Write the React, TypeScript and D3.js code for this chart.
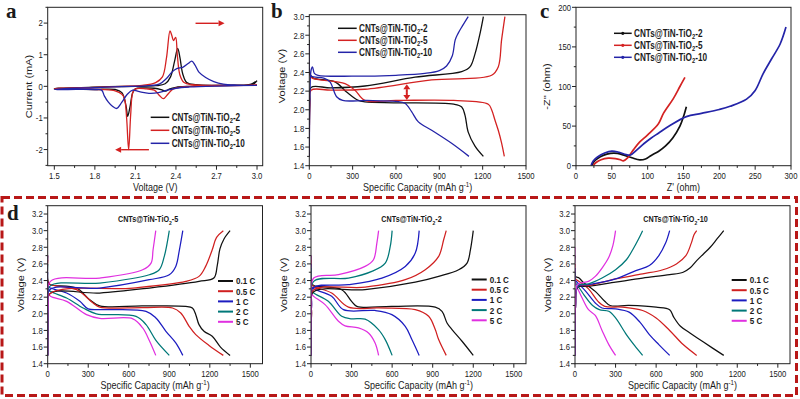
import React from 'react';
import * as d3 from 'd3';

type Pt = [number, number];

// ---------- Panel a : CV curves (Voltage V, Current mA) ----------
const cvTiO2_2: Pt[] = [
  [3.0, 0.18], [2.97, 0.06], [2.9, 0.04], [2.7, 0.02], [2.5, 0.0], [2.4, -0.03], [2.35, -0.09], [2.324, -0.15],
  [2.29, -0.1], [2.24, -0.06], [2.15, -0.05], [2.1, -0.08], [2.08, -0.2], [2.06, -0.65], [2.043, -0.95],
  [2.03, -0.6], [2.0, -0.2], [1.95, -0.1], [1.8, -0.1], [1.6, -0.09], [1.5, -0.08],
  [1.53, -0.06], [1.7, -0.04], [1.9, -0.01], [2.1, 0.0], [2.25, 0.02], [2.32, 0.08], [2.36, 0.3],
  [2.39, 0.8], [2.413, 1.2], [2.43, 0.9], [2.45, 0.4], [2.48, 0.12], [2.55, 0.05], [2.8, 0.04], [2.95, 0.06], [3.0, 0.18],
];
const cvTiO2_5: Pt[] = [
  [3.0, 0.05], [2.9, 0.03], [2.6, 0.01], [2.45, -0.02], [2.38, -0.08], [2.34, -0.25], [2.307, -0.39],
  [2.28, -0.3], [2.24, -0.12], [2.18, -0.08], [2.1, -0.08], [2.08, -0.2], [2.065, -0.9], [2.05, -2.0],
  [2.035, -1.0], [2.02, -0.4], [2.0, -0.25], [1.95, -0.14], [1.85, -0.1], [1.7, -0.09], [1.5, -0.08],
  [1.55, -0.06], [1.8, -0.03], [2.0, 0.0], [2.15, 0.03], [2.25, 0.12], [2.3, 0.3], [2.33, 0.9],
  [2.356, 1.75], [2.37, 1.6], [2.382, 1.45], [2.398, 1.55], [2.41, 1.0], [2.43, 0.35], [2.46, 0.12],
  [2.52, 0.05], [2.8, 0.03], [3.0, 0.04],
];
const cvTiO2_10: Pt[] = [
  [3.0, 0.03], [2.7, 0.01], [2.5, -0.02], [2.4, -0.06], [2.33, -0.13], [2.27, -0.2], [2.2, -0.22],
  [2.13, -0.17], [2.08, -0.12], [2.04, -0.25], [2.0, -0.5], [1.961, -0.7], [1.93, -0.63], [1.9, -0.5],
  [1.87, -0.3], [1.85, -0.12], [1.8, -0.1], [1.6, -0.1], [1.5, -0.1],
  [1.55, -0.08], [1.8, -0.04], [2.0, -0.01], [2.2, 0.02], [2.28, 0.08], [2.33, 0.25], [2.37, 0.45],
  [2.41, 0.57], [2.45, 0.6], [2.49, 0.72], [2.517, 0.8], [2.54, 0.68], [2.57, 0.45], [2.62, 0.28],
  [2.68, 0.15], [2.75, 0.07], [2.85, 0.04], [3.0, 0.03],
];

// ---------- Panel b : charge/discharge (capacity, voltage) ----------
const bDisTiO2_2: Pt[] = [[0, 2.75], [4, 2.38], [28, 2.34], [178, 2.3], [258, 2.19], [339, 2.1], [385, 2.085], [600, 2.075], [1000, 2.06], [1055, 2.03], [1078, 1.94], [1100, 1.76], [1147, 1.61], [1205, 1.5]];
const bChgTiO2_2: Pt[] = [[0, 1.5], [4, 2.1], [12, 2.24], [150, 2.235], [385, 2.255], [732, 2.35], [1055, 2.41], [1112, 2.46], [1147, 2.6], [1182, 2.82], [1205, 3.0]];
const bDisTiO2_5: Pt[] = [[0, 2.7], [4, 2.37], [20, 2.34], [247, 2.28], [316, 2.21], [385, 2.1], [600, 2.1], [1000, 2.1], [1239, 2.06], [1262, 2.0], [1285, 1.89], [1308, 1.78], [1330, 1.65], [1350, 1.5]];
const bChgTiO2_5: Pt[] = [[0, 1.5], [4, 2.05], [12, 2.21], [150, 2.21], [385, 2.22], [847, 2.32], [1262, 2.37], [1308, 2.46], [1331, 2.75], [1354, 3.0]];
const bDisTiO2_10: Pt[] = [[0, 2.7], [4, 2.4], [15, 2.36], [100, 2.34], [143, 2.3], [189, 2.14], [231, 2.1], [400, 2.1], [600, 2.09], [662, 2.07], [708, 1.98], [755, 1.87], [847, 1.78], [985, 1.64], [1105, 1.5]];
const bChgTiO2_10: Pt[] = [[0, 1.5], [5, 2.2], [12, 2.42], [22, 2.46], [35, 2.39], [60, 2.37], [300, 2.36], [600, 2.37], [800, 2.39], [900, 2.42], [950, 2.47], [990, 2.58], [1010, 2.75], [1030, 2.82], [1060, 2.9], [1100, 3.0]];

// ---------- Panel c : Nyquist (Z', -Z'') ----------
const eisTiO2_2: Pt[] = [[22, 0], [25, 5], [30, 9], [38, 13], [48, 15.5], [58, 15.5], [68, 13], [78, 10], [89, 7.3], [97, 8.5], [105, 13], [115, 18], [125, 25], [135, 35], [145, 50], [150, 62], [154, 74.5]];
const eisTiO2_5: Pt[] = [[24, 0], [28, 4], [35, 7.5], [45, 9.5], [55, 9], [62, 7.5], [66, 6], [72, 10], [80, 20], [89, 30], [100, 39], [115, 53], [122, 66], [136, 85], [145, 100], [152, 111.6]];
const eisTiO2_10: Pt[] = [[21, 0], [24, 6], [30, 11], [40, 16], [50, 18.5], [60, 17], [70, 14], [76, 13.5], [85, 20], [95, 28], [105, 35], [115, 41], [130, 50], [154, 62], [175, 66], [200, 71], [215, 75], [238, 84], [250, 95], [261, 116], [273, 135], [285, 154], [293, 175]];

// ---------- Panel d : rate performance ----------
const rates = ['0.1 C', '0.5 C', '1 C', '2 C', '5 C'];

const dDisTiO2_5: Pt[][] = [
  [[0, 2.7], [4, 2.38], [20, 2.35], [213, 2.31], [311, 2.17], [385, 2.095], [700, 2.095], [1022, 2.09], [1071, 2.07], [1096, 1.99], [1120, 1.87], [1157, 1.79], [1218, 1.73], [1279, 1.6], [1350, 1.5]],
  [[0, 2.65], [4, 2.37], [20, 2.35], [213, 2.29], [336, 2.13], [385, 2.08], [700, 2.075], [924, 2.07], [985, 2.01], [1047, 1.85], [1096, 1.75], [1194, 1.62], [1300, 1.5]],
  [[0, 2.5], [4, 2.33], [20, 2.31], [140, 2.25], [238, 2.15], [299, 2.06], [400, 2.05], [728, 2.03], [801, 1.95], [875, 1.79], [948, 1.65], [1000, 1.5]],
  [[0, 2.6], [4, 2.3], [20, 2.27], [140, 2.19], [262, 2.07], [360, 2.0], [654, 1.97], [728, 1.87], [801, 1.68], [900, 1.5]],
  [[0, 2.7], [4, 2.25], [20, 2.21], [140, 2.15], [287, 1.99], [385, 1.945], [630, 1.94], [703, 1.83], [752, 1.68], [800, 1.5]],
];
const dChgTiO2_5: Pt[][] = [
  [[0, 1.5], [4, 2.0], [15, 2.24], [385, 2.25], [752, 2.31], [1120, 2.39], [1230, 2.43], [1255, 2.58], [1275, 2.78], [1305, 2.9], [1350, 3.0]],
  [[0, 1.5], [4, 2.0], [15, 2.24], [630, 2.31], [1022, 2.39], [1120, 2.45], [1169, 2.57], [1218, 2.77], [1250, 2.92], [1300, 3.0]],
  [[0, 1.5], [4, 2.1], [15, 2.29], [385, 2.31], [752, 2.41], [900, 2.47], [948, 2.57], [975, 2.77], [1000, 3.0]],
  [[0, 1.5], [4, 2.1], [15, 2.33], [385, 2.37], [752, 2.47], [826, 2.53], [863, 2.69], [900, 3.0]],
  [[0, 1.5], [4, 2.1], [20, 2.39], [385, 2.43], [703, 2.53], [765, 2.61], [780, 2.77], [800, 3.0]],
];

const dDisTiO2_2: Pt[][] = [
  [[0, 2.7], [4, 2.37], [20, 2.34], [227, 2.29], [300, 2.15], [339, 2.09], [600, 2.09], [919, 2.08], [969, 2.03], [1006, 1.89], [1043, 1.81], [1117, 1.67], [1200, 1.5]],
  [[0, 2.65], [4, 2.36], [20, 2.33], [153, 2.25], [277, 2.08], [500, 2.07], [771, 2.05], [870, 1.97], [919, 1.81], [944, 1.69], [1000, 1.5]],
  [[0, 2.6], [4, 2.33], [20, 2.3], [153, 2.21], [240, 2.05], [474, 2.04], [598, 1.99], [697, 1.85], [746, 1.69], [800, 1.5]],
  [[0, 2.55], [4, 2.28], [20, 2.25], [128, 2.15], [227, 1.97], [301, 1.94], [400, 1.935], [499, 1.81], [549, 1.69], [600, 1.5]],
  [[0, 2.7], [4, 2.24], [20, 2.21], [104, 2.11], [203, 1.91], [252, 1.855], [351, 1.83], [425, 1.77], [474, 1.65], [500, 1.5]],
];
const dChgTiO2_2: Pt[][] = [
  [[0, 1.5], [4, 2.0], [15, 2.26], [400, 2.29], [771, 2.38], [944, 2.45], [1092, 2.53], [1154, 2.61], [1179, 2.77], [1200, 3.0]],
  [[0, 1.5], [4, 2.0], [15, 2.28], [400, 2.32], [697, 2.41], [845, 2.53], [944, 2.69], [981, 2.89], [1000, 3.0]],
  [[0, 1.5], [4, 2.1], [15, 2.31], [277, 2.35], [524, 2.43], [697, 2.57], [771, 2.73], [800, 3.0]],
  [[0, 1.5], [4, 2.1], [20, 2.39], [277, 2.43], [450, 2.51], [549, 2.61], [586, 2.81], [600, 3.0]],
  [[0, 1.5], [4, 2.1], [20, 2.43], [203, 2.47], [400, 2.57], [462, 2.65], [487, 2.85], [500, 3.0]],
];

const dDisTiO2_10: Pt[][] = [
  [[0, 2.7], [4, 2.45], [30, 2.43], [60, 2.38], [150, 2.27], [220, 2.15], [260, 2.1], [400, 2.1], [600, 2.08], [700, 2.05], [730, 1.96], [780, 1.85], [850, 1.77], [950, 1.66], [1100, 1.5]],
  [[0, 2.6], [4, 2.42], [20, 2.4], [100, 2.3], [170, 2.15], [220, 2.09], [350, 2.08], [500, 2.04], [600, 1.95], [700, 1.8], [800, 1.63], [900, 1.5]],
  [[0, 2.55], [4, 2.4], [15, 2.38], [80, 2.27], [150, 2.13], [200, 2.07], [300, 2.06], [400, 2.02], [480, 1.9], [550, 1.75], [620, 1.63], [700, 1.5]],
  [[0, 2.5], [4, 2.37], [15, 2.35], [70, 2.22], [130, 2.1], [180, 2.05], [250, 2.03], [300, 1.95], [380, 1.75], [440, 1.62], [500, 1.5]],
  [[0, 2.8], [4, 2.35], [15, 2.32], [50, 2.2], [100, 2.05], [150, 1.98], [200, 1.8], [250, 1.63], [300, 1.5]],
];
const dChgTiO2_10: Pt[][] = [
  [[0, 1.5], [4, 2.1], [20, 2.32], [100, 2.33], [300, 2.38], [500, 2.43], [700, 2.47], [800, 2.5], [850, 2.55], [900, 2.64], [950, 2.72], [1000, 2.8], [1050, 2.9], [1100, 3.0]],
  [[0, 1.5], [4, 2.1], [20, 2.33], [100, 2.34], [300, 2.42], [500, 2.48], [650, 2.53], [750, 2.6], [820, 2.7], [860, 2.85], [880, 2.95], [900, 3.0]],
  [[0, 1.5], [4, 2.1], [20, 2.33], [100, 2.35], [300, 2.42], [450, 2.52], [550, 2.58], [620, 2.7], [670, 2.85], [700, 3.0]],
  [[0, 1.5], [4, 2.1], [20, 2.34], [100, 2.36], [200, 2.43], [300, 2.53], [380, 2.65], [430, 2.78], [470, 2.9], [500, 3.0]],
  [[0, 1.5], [4, 2.1], [20, 2.35], [100, 2.39], [150, 2.45], [200, 2.55], [250, 2.68], [280, 2.82], [300, 3.0]],
];

// ---------- Tick values ----------
const aXTicks = [1.5, 1.8, 2.1, 2.4, 2.7, 3.0];
const aYTicks = [-2, -1, 0, 1, 2];
const capTicks = [0, 300, 600, 900, 1200, 1500];
const bYTicks = [1.4, 1.6, 1.8, 2.0, 2.2, 2.4, 2.6, 2.8, 3.0];
const cXTicks = [0, 50, 100, 150, 200, 250, 300];
const cYTicks = [0, 50, 100, 150, 200];
const dYTicks = [1.4, 1.6, 1.8, 2.0, 2.2, 2.4, 2.6, 2.8, 3.0, 3.2];

// ---------- styling ----------
const SX = 0.82;
const FONT = "'Liberation Sans', Arial, Helvetica, sans-serif";
const SERIF = "'Liberation Serif', 'Times New Roman', serif";
const sampleColors = ['#111111', '#d42222', '#2424a8'];
const rateColors = ['#111111', '#d02020', '#1c1cc0', '#007878', '#e030e0'];
const RED = '#d42020';

type TxtProps = { x: number; y: number; size: number; anchor?: string; weight?: string; rot?: boolean; fill?: string; family?: string; noSquash?: boolean; children: React.ReactNode };
function Txt({ x, y, size, anchor = 'start', weight = 'normal', rot = false, fill = '#1a1a1a', family = FONT, noSquash = false, children }: TxtProps) {
  const s = noSquash ? 1 : SX;
  const tr = rot ? `translate(${x},${y}) rotate(-90) scale(1,${s})` : `translate(${x},${y}) scale(${s},1)`;
  return (
    <text transform={tr} fontSize={size} textAnchor={anchor as any} fontWeight={weight} fontFamily={family} fill={fill}>
      {children}
    </text>
  );
}

function SampleLabel({ sfx }: { sfx: string }) {
  return (
    <>
      CNTs@TiN-TiO<tspan fontSize="0.7em" dy="2.5">2</tspan>
      <tspan dy="-2.5">-{sfx}</tspan>
    </>
  );
}

function minorsOf(ticks: number[], dom: number[]) {
  const step = ticks[1] - ticks[0];
  const out: number[] = [];
  for (let v = ticks[0] - step / 2; v <= dom[1] + 1e-9; v += step) {
    if (v >= dom[0] - 1e-9) out.push(v);
  }
  return out;
}

type AxesProps = {
  xs: d3.ScaleLinear<number, number>; ys: d3.ScaleLinear<number, number>;
  xTicks: number[]; yTicks: number[]; xFmt: (v: number) => string; yFmt: (v: number) => string;
  xTitle: React.ReactNode; yTitle: React.ReactNode; yTitleX: number; yTitleY?: number;
};
function Axes({ xs, ys, xTicks, yTicks, xFmt, yFmt, xTitle, yTitle, yTitleX, yTitleY }: AxesProps) {
  const [L, R] = xs.range();
  const [B, T] = ys.range();
  const xm = minorsOf(xTicks, xs.domain());
  const ym = minorsOf(yTicks, ys.domain());
  const c = '#222';
  return (
    <g>
      <rect x={L} y={T} width={R - L} height={B - T} fill="none" stroke={c} strokeWidth={1} />
      {xTicks.map((v) => (
        <g key={'xt' + v}>
          <line x1={xs(v)} x2={xs(v)} y1={B} y2={B + 4} stroke={c} strokeWidth={1} />
          <Txt x={xs(v)} y={B + 13.5} size={9.4} anchor="middle">{xFmt(v)}</Txt>
        </g>
      ))}
      {xm.map((v) => (
        <line key={'xm' + v} x1={xs(v)} x2={xs(v)} y1={B} y2={B + 2.2} stroke={c} strokeWidth={1} />
      ))}
      {yTicks.map((v) => (
        <g key={'yt' + v}>
          <line x1={L - 4} x2={L} y1={ys(v)} y2={ys(v)} stroke={c} strokeWidth={1} />
          <Txt x={L - 5} y={ys(v) + 3.3} size={9.4} anchor="end">{yFmt(v)}</Txt>
        </g>
      ))}
      {ym.map((v) => (
        <line key={'ym' + v} x1={L - 2.2} x2={L} y1={ys(v)} y2={ys(v)} stroke={c} strokeWidth={1} />
      ))}
      <Txt x={(L + R) / 2} y={B + 25} size={11} anchor="middle">{xTitle}</Txt>
      <Txt x={yTitleX} y={yTitleY ?? (T + B) / 2} size={11} anchor="middle" rot>{yTitle}</Txt>
    </g>
  );
}

function curve(xs: d3.ScaleLinear<number, number>, ys: d3.ScaleLinear<number, number>) {
  return d3
    .line<Pt>()
    .x((d) => xs(d[0]))
    .y((d) => ys(d[1]))
    .curve(d3.curveCatmullRom.alpha(0.5));
}

const capTitle = (
  <>
    Specific Capacity (mAh g<tspan fontSize="0.68em" dy="-4">-1</tspan>
    <tspan dy="4">)</tspan>
  </>
);

function Arrow({ x1, y1, x2, y2, w = 1.4, head = 6, hw = 3 }: { x1: number; y1: number; x2: number; y2: number; w?: number; head?: number; hw?: number }) {
  const ang = Math.atan2(y2 - y1, x2 - x1);
  const bx = x2 - head * Math.cos(ang);
  const by = y2 - head * Math.sin(ang);
  const px = -Math.sin(ang) * hw;
  const py = Math.cos(ang) * hw;
  return (
    <g>
      <line x1={x1} y1={y1} x2={bx} y2={by} stroke={RED} strokeWidth={w} />
      <polygon points={`${x2},${y2} ${bx + px},${by + py} ${bx - px},${by - py}`} fill={RED} />
    </g>
  );
}

function RatePanel({ L, R, title, dis, chg, legX, legY }: { L: number; R: number; title: string; dis: Pt[][]; chg: Pt[][]; legX: number; legY: number }) {
  const xs = d3.scaleLinear().domain([0, 1590]).range([L, R]);
  const ys = d3.scaleLinear().domain([1.4, 3.3]).range([363.7, 205.7]);
  const ln = curve(xs, ys);
  const id = 'clip' + Math.round(L);
  return (
    <g>
      <clipPath id={id}>
        <rect x={L} y={205.7} width={R - L} height={363.7 - 205.7} />
      </clipPath>
      <g clipPath={`url(#${id})`} fill="none" strokeWidth={1.25}>
        {dis.map((s, i) => <path key={'d' + i} d={ln(s) || ''} stroke={rateColors[i]} />)}
        {chg.map((s, i) => <path key={'c' + i} d={ln(s) || ''} stroke={rateColors[i]} />)}
      </g>
      <Axes xs={xs} ys={ys} xTicks={capTicks} yTicks={dYTicks} xFmt={(v) => String(v)} yFmt={(v) => v.toFixed(1)}
        xTitle={capTitle} yTitle="Voltage (V)" yTitleX={L - 24} />
      <Txt x={(L + R) / 2 - 7} y={222} size={8.8} anchor="middle" weight="bold"><SampleLabel sfx={title} /></Txt>
      {rates.map((r, i) => (
        <g key={r}>
          <line x1={legX} x2={legX + 15} y1={legY + i * 10.2} y2={legY + i * 10.2} stroke={rateColors[i]} strokeWidth={2} />
          <Txt x={legX + 18} y={legY + i * 10.2 + 3.4} size={9.8} weight="bold">{r}</Txt>
        </g>
      ))}
    </g>
  );
}

export default function App() {
  // panel a
  const axs = d3.scaleLinear().domain([1.451, 3.042]).range([47.7, 262.7]);
  const ays = d3.scaleLinear().domain([-2.51, 2.5]).range([165.7, 7.3]);
  const aLine = curve(axs, ays);
  // panel b
  const bxs = d3.scaleLinear().domain([0, 1500]).range([309.3, 526]);
  const bys = d3.scaleLinear().domain([1.4, 3.02]).range([165.7, 14.7]);
  const bLine = curve(bxs, bys);
  // panel c
  const cxs = d3.scaleLinear().domain([0, 300]).range([576, 791]);
  const cys = d3.scaleLinear().domain([0, 200]).range([165.7, 7.3]);
  const cLine = curve(cxs, cys);

  const cvSeries = [cvTiO2_2, cvTiO2_5, cvTiO2_10];
  const bSeries = [[bDisTiO2_2, bChgTiO2_2], [bDisTiO2_5, bChgTiO2_5], [bDisTiO2_10, bChgTiO2_10]];
  const eisSeries = [eisTiO2_2, eisTiO2_5, eisTiO2_10];
  const sfx = ['2', '5', '10'];

  return (
    <svg width={800} height={399} style={{ position: 'absolute', left: 0, top: 0, background: '#fff' }} xmlns="http://www.w3.org/2000/svg">
      <rect x={0} y={0} width={800} height={399} fill="#fff" />
      {/* ---------- a ---------- */}
      <clipPath id="clipA"><rect x={47.7} y={7.3} width={215} height={158.4} /></clipPath>
      <g clipPath="url(#clipA)" fill="none" strokeWidth={1.3}>
        {cvSeries.map((s, i) => <path key={i} d={aLine(s) || ''} stroke={sampleColors[i]} />)}
      </g>
      <Axes xs={axs} ys={ays} xTicks={aXTicks} yTicks={aYTicks} xFmt={(v) => v.toFixed(1)} yFmt={(v) => String(v)}
        xTitle="Voltage (V)" yTitle="Current (mA)" yTitleX={31.5} />
      <Arrow x1={axs(2.545)} y1={23.3} x2={axs(2.76)} y2={23.3} />
      <Arrow x1={axs(2.2)} y1={149.7} x2={axs(1.95)} y2={149.7} />
      {sfx.map((s, i) => (
        <g key={'la' + i}>
          <line x1={150.7} x2={169.3} y1={117.3 + i * 13} y2={117.3 + i * 13} stroke={sampleColors[i]} strokeWidth={1.5} />
          <Txt x={171.7} y={117.3 + i * 13 + 3.5} size={10} weight="bold"><SampleLabel sfx={s} /></Txt>
        </g>
      ))}
      <Txt x={6} y={18} size={21} weight="bold" family={SERIF} noSquash>a</Txt>

      {/* ---------- b ---------- */}
      <clipPath id="clipB"><rect x={309.3} y={14.7} width={216.7} height={151} /></clipPath>
      <g clipPath="url(#clipB)" fill="none" strokeWidth={1.3}>
        {bSeries.map((pair, i) => pair.map((s, j) => <path key={i + '-' + j} d={bLine(s) || ''} stroke={sampleColors[i]} />))}
      </g>
      <Axes xs={bxs} ys={bys} xTicks={capTicks} yTicks={bYTicks} xFmt={(v) => String(v)} yFmt={(v) => v.toFixed(1)}
        xTitle={capTitle} yTitle="Voltage (V)" yTitleX={285} yTitleY={76} />
      <Arrow x1={bxs(675)} y1={bys(2.19)} x2={bxs(675)} y2={bys(2.275)} w={2} head={5} hw={3.5} />
      <Arrow x1={bxs(675)} y1={bys(2.19)} x2={bxs(675)} y2={bys(2.105)} w={2} head={5} hw={3.5} />
      {sfx.map((s, i) => (
        <g key={'lb' + i}>
          <line x1={338} x2={356.7} y1={28.3 + i * 12} y2={28.3 + i * 12} stroke={sampleColors[i]} strokeWidth={1.5} />
          <Txt x={359} y={28.3 + i * 12 + 3.5} size={10} weight="bold"><SampleLabel sfx={s} /></Txt>
        </g>
      ))}
      <Txt x={271} y={18} size={21} weight="bold" family={SERIF} noSquash>b</Txt>

      {/* ---------- c ---------- */}
      <clipPath id="clipC"><rect x={576} y={7.3} width={215} height={158.4} /></clipPath>
      <g clipPath="url(#clipC)" fill="none" strokeWidth={1.7}>
        {eisSeries.map((s, i) => <path key={i} d={cLine(s) || ''} stroke={sampleColors[i]} />)}
      </g>
      <Axes xs={cxs} ys={cys} xTicks={cXTicks} yTicks={cYTicks} xFmt={(v) => String(v)} yFmt={(v) => String(v)}
        xTitle="Z' (ohm)" yTitle="-Z'' (ohm)" yTitleX={550} />
      {sfx.map((s, i) => (
        <g key={'lc' + i}>
          <line x1={614} x2={631.7} y1={33.3 + i * 12} y2={33.3 + i * 12} stroke={sampleColors[i]} strokeWidth={1.5} />
          <circle cx={622.8} cy={33.3 + i * 12} r={1.6} fill={sampleColors[i]} />
          <Txt x={634} y={33.3 + i * 12 + 3.5} size={10} weight="bold"><SampleLabel sfx={s} /></Txt>
        </g>
      ))}
      <Txt x={540} y={18} size={21} weight="bold" family={SERIF} noSquash>c</Txt>

      {/* ---------- d ---------- */}
      <rect x={2} y={197.5} width={794.5} height={198} fill="none" stroke="#b81818" strokeWidth={3} strokeDasharray="8,4" />
      <RatePanel L={47.7} R={262.5} title="5" dis={dDisTiO2_5} chg={dChgTiO2_5} legX={218} legY={281} />
      <RatePanel L={311} R={526} title="2" dis={dDisTiO2_2} chg={dChgTiO2_2} legX={471.7} legY={279.5} />
      <RatePanel L={575} R={790} title="10" dis={dDisTiO2_10} chg={dChgTiO2_10} legX={731.7} legY={280} />
      <Txt x={7} y={220} size={21} weight="bold" family={SERIF} noSquash>d</Txt>
    </svg>
  );
}
